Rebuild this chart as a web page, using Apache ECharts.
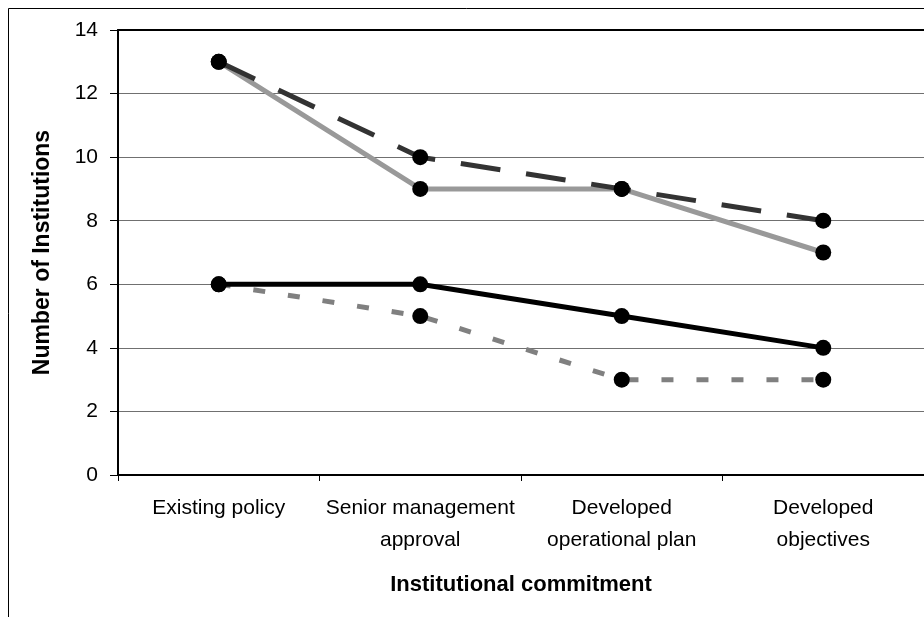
<!DOCTYPE html>
<html>
<head>
<meta charset="utf-8">
<script src="https://cdn.jsdelivr.net/npm/echarts@6/dist/echarts.min.js"></script>
<style>
html,body{margin:0;padding:0;background:#fff;}
#chart{width:924px;height:617px;}
</style>
</head>
<body>
<div id="chart"></div>
<script>
var categories = ['Existing policy', 'Senior management\napproval', 'Developed\noperational plan', 'Developed\nobjectives'];
var seriesDashedDark = [13, 10, 9, 8];
var seriesSolidGray = [13, 9, 9, 7];
var seriesSolidBlack = [6, 6, 5, 4];
var seriesDottedGray = [6, 5, 3, 3];
var yTicks = [0, 2, 4, 6, 8, 10, 12, 14];
var xTitle = 'Institutional commitment';
var yTitle = 'Number of Institutions';

var FONT = '"Liberation Sans", Arial, sans-serif';
var chart = echarts.init(document.getElementById('chart'), null, {renderer: 'canvas'});

function lineSeries(data, color, type, z) {
  return {
    type: 'line', data: data, showSymbol: false, symbol: 'none',
    lineStyle: {color: color, width: 5, type: type, cap: 'butt', opacity: 1},
    z: z, silent: true, animation: false
  };
}
function markerSeries(data) {
  return {
    type: 'scatter', data: data, symbol: 'circle', symbolSize: 16,
    itemStyle: {color: '#000', opacity: 1}, z: 10, silent: true, animation: false
  };
}

chart.setOption({
  animation: false,
  backgroundColor: '#fff',
  graphic: [{
    type: 'rect', z: 100, silent: true,
    shape: {x: 8.5, y: 8.5, width: 1200, height: 1200},
    style: {fill: 'none', stroke: '#000', lineWidth: 1}
  }],
  grid: {left: 118, top: 30, width: 808, height: 445, containLabel: false},
  xAxis: [{
    type: 'category', data: categories, boundaryGap: true, position: 'bottom',
    axisLine: {show: true, lineStyle: {color: '#000', width: 2}},
    axisTick: {show: true, interval: 0, length: 6, lineStyle: {color: '#000', width: 1}},
    axisLabel: {interval: 0, color: '#000', fontFamily: FONT, fontSize: 21, lineHeight: 32, margin: 17},
    splitLine: {show: false},
    name: xTitle, nameLocation: 'middle', nameGap: 99,
    nameTextStyle: {color: '#000', fontFamily: FONT, fontSize: 22, fontWeight: 'bold'}
  }, {
    type: 'category', data: categories, position: 'top', z: 5,
    axisLine: {show: true, lineStyle: {color: '#000', width: 2}},
    axisTick: {show: false}, axisLabel: {show: false}, splitLine: {show: false}
  }],
  yAxis: {
    type: 'value', min: yTicks[0], max: yTicks[yTicks.length - 1], interval: 2,
    axisLine: {show: true, lineStyle: {color: '#000', width: 2}},
    axisTick: {show: true, length: 8, lineStyle: {color: '#000', width: 1}},
    axisLabel: {color: '#000', fontFamily: FONT, fontSize: 21, margin: 20},
    splitLine: {show: true, lineStyle: {color: '#707070', width: 1}},
    name: yTitle, nameLocation: 'middle', nameGap: 64, nameRotate: 90,
    nameTextStyle: {color: '#000', fontFamily: FONT, fontSize: 23, fontWeight: 'bold'}
  },
  series: [
    lineSeries(seriesSolidGray, '#999999', 'solid', 2),
    lineSeries(seriesDashedDark, '#333333', [40, 26], 3),
    lineSeries(seriesDottedGray, '#808080', [12, 23], 4),
    lineSeries(seriesSolidBlack, '#000000', 'solid', 5),
    markerSeries(seriesSolidGray),
    markerSeries(seriesDashedDark),
    markerSeries(seriesDottedGray),
    markerSeries(seriesSolidBlack)
  ]
});
</script>
</body>
</html>
